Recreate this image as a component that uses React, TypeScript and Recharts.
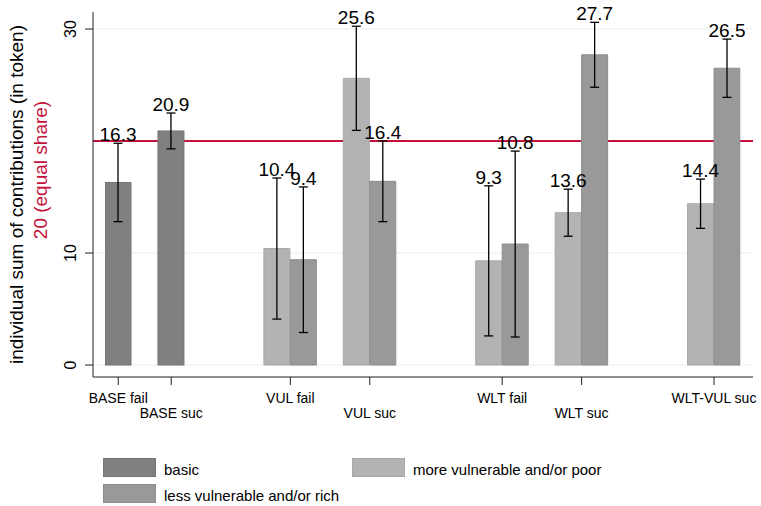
import { Bar, BarChart, CartesianGrid, Cell, ErrorBar, LabelList, Legend, XAxis, YAxis } from "recharts";

const font = "'Liberation Sans', Arial, sans-serif";

const groups = ["BASE fail", "BASE suc", "VUL fail", "VUL suc", "WLT fail", "WLT suc", "WLT-VUL suc"];
const basic = [16.3, 20.9, null, null, null, null, null];
const basicCi = [3.5, 1.6, null, null, null, null, null];
const moreVulnerable = [null, null, 10.4, 25.6, 9.3, 13.6, 14.4];
const moreVulnerableCi = [null, null, 6.3, 4.65, 6.7, 2.1, 2.2];
const lessVulnerable = [null, null, 9.4, 16.4, 10.8, 27.7, 26.5];
const lessVulnerableCi = [null, null, 6.5, 3.6, 8.3, 2.9, 2.6];
const yTicks = [0, 10, 30];
const equalShare = 20;

const series = [
  { name: "basic", values: basic, ci: basicCi, fill: "#808080", stroke: "#747474" },
  { name: "more vulnerable and/or poor", values: moreVulnerable, ci: moreVulnerableCi, fill: "#b3b3b3", stroke: "#a8a8a8" },
  { name: "less vulnerable and/or rich", values: lessVulnerable, ci: lessVulnerableCi, fill: "#999999", stroke: "#8d8d8d" },
];

// layout: first bar slot of each group (one slot = one bar width)
const groupStart = [0, 2, 6, 9, 14, 17, 22];

type Row = { x: number; value: number; ci: number; fill: string; stroke: string };
const rows: Row[] = [];
const tickPos: number[] = [];
groups.forEach((_, i) => {
  let slot = groupStart[i];
  for (const s of series) {
    const v = s.values[i];
    if (v == null) continue;
    rows.push({ x: slot + 0.5, value: v, ci: s.ci[i] as number, fill: s.fill, stroke: s.stroke });
    slot += 1;
  }
  tickPos.push((groupStart[i] + slot) / 2);
});

// grid lines at the y ticks plus the equal-share line (drawn in the grid layer so bars cover it)
const gridValues = [...yTicks, equalShare];

function GridLine(props: any) {
  const { x1, x2, y1, y2, index } = props;
  const red = gridValues[index] === equalShare;
  return <line key={props.key} x1={x1} x2={x2} y1={y1} y2={y2} stroke={red ? "#c4123c" : "#e6eef0"} strokeWidth={red ? 2.2 : 1} />;
}

function XTick({ x, y, payload }: any) {
  const i = tickPos.indexOf(payload.value);
  return (
    <text x={x} y={y} dy={i % 2 ? 31 : 16} textAnchor="middle" fontSize={14} fill="#000">
      {groups[i]}
    </text>
  );
}

function YTick({ x, y, payload }: any) {
  return (
    <text x={x} y={y} transform={`rotate(-90 ${x} ${y})`} textAnchor="middle" fontSize={16} fill="#000">
      {payload.value}
    </text>
  );
}

function YTitle({ viewBox }: any) {
  const cy = viewBox ? viewBox.y + viewBox.height / 2 : 194;
  return (
    <g>
      <text x={23} y={cy} transform={`rotate(-90 23 ${cy})`} textAnchor="middle" fontSize={19} fill="#000">
        individual sum of contributions (in token)
      </text>
      <text x={47} y={170} transform="rotate(-90 47 170)" textAnchor="middle" fontSize={19} fill="#c4123c">
        20 (equal share)
      </text>
    </g>
  );
}

function ValueLabel({ x, y, width, height, value, index }: any) {
  const row = rows[index];
  const top = y - (row.ci * height) / value;
  return (
    <text x={x + width / 2} y={top - 2} textAnchor="middle" fontSize={19} fill="#000">
      {value}
    </text>
  );
}

function LegendBox() {
  return (
    <div style={{ display: "grid", gridTemplateColumns: "249px 280px", rowGap: 7, fontFamily: font, fontSize: 15, color: "#000" }}>
      {series.map((s) => (
        <div key={s.name} style={{ display: "flex", alignItems: "center", height: 19 }}>
          <span style={{ width: 53, height: 19, background: s.fill, border: `1px solid ${s.stroke}`, boxSizing: "border-box", marginRight: 8 }} />
          <span style={{ paddingTop: 3 }}>{s.name}</span>
        </div>
      ))}
    </div>
  );
}

export default function App() {
  return (
    <div style={{ position: "absolute", left: 0, top: 0, width: 761, height: 506, background: "#fff", fontFamily: font }}>
      <BarChart width={761} height={506} data={rows} margin={{ top: 12, right: 8, bottom: 84, left: 0 }} barCategoryGap={0} barGap={0}>
        <CartesianGrid vertical={false} horizontalValues={gridValues} horizontal={(p: any) => <GridLine {...p} />} />
        <XAxis dataKey="x" type="number" domain={[0, 24]} allowDataOverflow ticks={tickPos} interval={0} padding={{ left: 12, right: 12.5 }} height={45} tickSize={8} tickMargin={2} tick={<XTick />} stroke="#222" />
        <YAxis type="number" domain={[-1.07, 31.52]} allowDataOverflow ticks={yTicks} interval={0} width={93} tickSize={8} tickMargin={9} tick={<YTick />} stroke="#222" label={<YTitle />} />
        <Bar dataKey="value" isAnimationActive={false}>
          {rows.map((r, i) => (
            <Cell key={i} fill={r.fill} stroke={r.stroke} />
          ))}
          <ErrorBar dataKey="ci" width={4.5} stroke="#000" strokeWidth={1.3} isAnimationActive={false} />
          <LabelList dataKey="value" content={<ValueLabel />} />
        </Bar>
        <Legend layout="vertical" align="center" verticalAlign="middle" wrapperStyle={{ left: 103, top: 458, width: 560, height: 46 }} content={<LegendBox />} />
      </BarChart>
    </div>
  );
}
